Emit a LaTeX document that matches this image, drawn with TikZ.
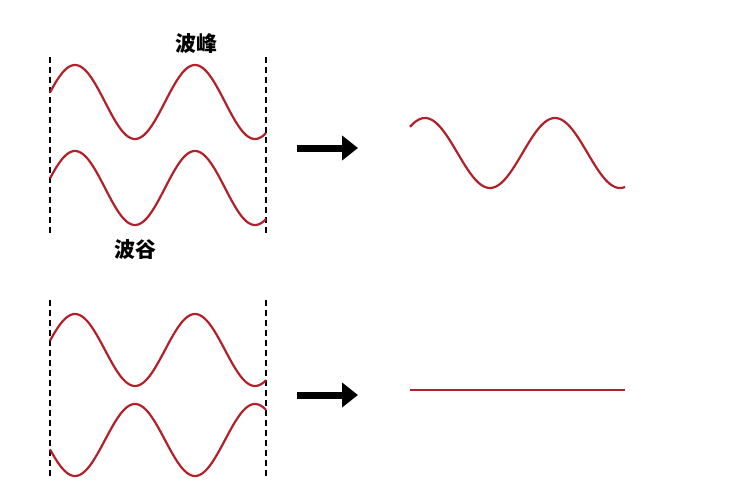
\documentclass[tikz,border=0pt]{standalone}
\usepackage{fontspec}
\newfontfamily\cjk{Noto Sans CJK SC}
\usetikzlibrary{arrows.meta}
\definecolor{wavered}{RGB}{178,32,42}
\tikzset{
  wave/.style={wavered,line width=2.2pt},
  guide/.style={dash pattern=on 6pt off 4pt,line width=1.6pt,black},
  bigarrow/.style={-{Triangle[length=16pt,width=24pt]},line width=7pt,black},
  lbl/.style={font=\cjk\bfseries\fontsize{21}{21}\selectfont,text=black}
}
\begin{document}
\begin{tikzpicture}[x=1pt,y=-1pt]
\useasboundingbox[fill=white] (0,0) rectangle (743,503);
% dashed guides
\draw[guide] (50,57) -- (50,235);
\draw[guide] (266,57) -- (266,235);
\draw[guide] (50,300) -- (50,478);
\draw[guide] (266,300) -- (266,478);
% waves
\draw[wave] plot[domain=50:266,samples=120,smooth] (\x,{102-37*cos((\x-75)*3)});
\draw[wave] plot[domain=50:266,samples=120,smooth] (\x,{188-37*cos((\x-75)*3)});
\draw[wave] plot[domain=50:266,samples=120,smooth] (\x,{350-36*cos((\x-75)*3)});
\draw[wave] plot[domain=50:266,samples=120,smooth] (\x,{440+36*cos((\x-75)*3)});
\draw[wave] plot[domain=410:625,samples=120,smooth] (\x,{153-35*cos((\x-425)*2.769)});
\draw[wave] (410,390) -- (625,390);
% labels
\node[lbl] (peak) at (196,44) {波峰};
\node[lbl] (trough) at (135,250) {波谷};
% arrows
\coordinate (a1s) at (297,148); \coordinate (a1e) at (358,148);
\coordinate (a2s) at (297,395); \coordinate (a2e) at (358,395);
\draw[bigarrow] (a1s) -- (a1e);
\draw[bigarrow] (a2s) -- (a2e);
\end{tikzpicture}
\end{document}
